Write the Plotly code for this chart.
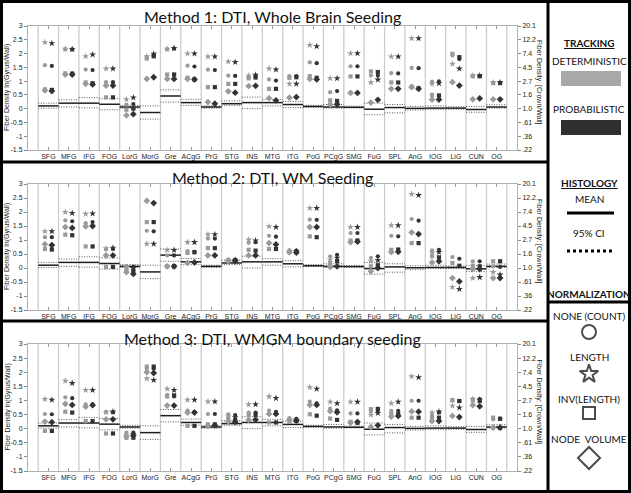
import plotly.graph_objects as go

W, H = 631, 493

categories = ["SFG", "MFG", "IFG", "FOG", "LorG", "MorG", "Gre", "ACgG", "PrG", "STG", "INS", "MTG",
              "ITG", "PoG", "PCgG", "SMG", "FuG", "SPL", "AnG", "IOG", "LiG", "CUN", "OG"]

left_ticks = [-1.5, -1, -0.5, 0, 0.5, 1, 1.5, 2, 2.5, 3]
left_labels = ["-1.5", "-1", "-0.5", "0", "0.5", "1", "1.5", "2", "2.5", "3"]
right_labels = [".22", ".36", ".61", "1.0", "1.6", "2.7", "4.5", "7.4", "12.2", "20.1"]

# Histology (same in all panels)
hist_mean = [0.1, 0.2, 0.2, 0.16, 0.06, -0.14, 0.46, 0.22, 0.06, 0.18, 0.22, 0.22, 0.15, 0.08, 0.06, 0.05, -0.02, 0.04, 0.01, 0.02, 0.02, -0.03, 0.06]
hist_ci_hi = [0.2, 0.32, 0.4, 0.36, 0.12, 0.1, 0.68, 0.34, 0.1, 0.28, 0.42, 0.33, 0.26, 0.12, 0.15, 0.09, 0.2, 0.15, 0.08, 0.1, 0.07, 0.08, 0.14]
hist_ci_lo = [0.02, 0.06, 0.03, -0.04, 0.02, -0.38, 0.24, 0.12, 0.02, 0.12, 0.0, 0.1, 0.04, 0.05, 0.02, 0.03, -0.22, -0.15, -0.05, -0.02, -0.02, -0.13, 0.02]

# Method 1: whole brain seeding
m1_det_circle = [1.58, 2.15, 1.42, 0.96, 0.15, 1.86, 2.15, 1.56, 1.42, 1.2, 1.15, 1.06, 1.18, 1.68, 0.6, 1.54, 1.2, 1.29, 1.48, 0.98, 1.93, 1.17, 0.93]
m1_det_star = [2.41, 2.17, 1.9, 1.45, 0.34, 1.9, 2.17, 2.0, 1.89, 1.71, 1.2, 1.45, 0.9, 2.31, 1.1, 2.01, 0.95, 1.89, 2.55, 0.9, 1.63, 1.2, 0.95]
m1_det_square = [0.7, 1.28, 0.95, 0.41, -0.04, 1.82, 1.24, 1.12, 0.78, 0.9, 1.1, 0.72, 1.12, 1.18, 0.3, 1.17, 1.35, 0.95, 0.8, 0.5, 1.99, 1.18, 0.93]
m1_det_diamond = [0.66, 1.24, 0.9, 0.84, -0.24, 1.08, 1.08, 1.08, 0.24, 0.63, 0.82, 0.38, 0.4, 1.08, 0.15, 0.57, 0.22, 0.72, 0.78, 0.33, 0.96, 0.34, 0.34]
m1_prob_circle = [1.55, 2.15, 1.4, 0.96, 0.17, 1.93, 2.18, 1.53, 1.4, 1.19, 1.18, 1.02, 1.18, 1.65, 0.64, 1.54, 1.2, 1.28, 1.47, 0.99, 1.8, 1.18, 0.93]
m1_prob_star = [2.37, 2.15, 1.96, 1.45, 0.4, 1.99, 2.2, 2.0, 1.89, 1.69, 1.23, 1.42, 0.9, 2.26, 1.1, 2.01, 1.05, 1.89, 2.55, 0.92, 1.45, 1.2, 0.95]
m1_prob_square = [0.68, 1.27, 0.92, 0.41, 0.0, 1.9, 1.24, 1.06, 0.78, 0.9, 1.13, 0.72, 1.14, 1.12, 0.28, 1.17, 1.33, 0.95, 0.74, 0.48, 1.87, 1.18, 0.93]
m1_prob_diamond = [0.64, 1.24, 0.88, 0.84, -0.2, 1.14, 1.08, 1.06, 0.18, 0.58, 0.83, 0.3, 0.42, 1.06, 0.16, 0.57, 0.32, 0.72, 0.72, 0.33, 0.84, 0.37, 0.34]

# Method 2: WM seeding
m2_det_circle = [1.1, 1.7, 1.6, 0.66, 0.08, 1.33, 0.45, 0.6, 1.05, 0.3, 0.9, 1.15, 0.63, 1.73, 0.42, 1.25, 0.36, 1.15, 1.75, 0.63, 0.39, 0.24, 0.06]
m2_det_star = [1.31, 2.0, 1.93, 0.7, 0.02, 0.86, 0.64, 0.92, 1.2, 0.28, 1.01, 1.49, 0.6, 2.14, 0.3, 1.46, 0.24, 1.52, 2.64, 0.54, -0.68, -0.36, -0.15]
m2_det_square = [0.68, 1.19, 0.77, 0.04, -0.06, 1.64, 0.06, 0.54, 0.71, 0.27, 0.65, 0.68, 0.58, 1.13, 0.18, 0.98, 0.06, 0.65, 0.89, 0.42, 0.18, 0.08, 0.24]
m2_det_diamond = [0.85, 1.46, 1.49, 0.45, -0.15, 2.4, 0.06, 0.18, 0.45, 0.25, 0.45, 0.89, 0.56, 1.46, 0.04, 0.92, -0.12, 0.57, 1.27, 0.2, -0.36, -0.04, -0.36]
m2_prob_circle = [1.1, 1.67, 1.64, 0.68, 0.04, 1.31, 0.45, 0.58, 1.05, 0.3, 0.92, 1.12, 0.62, 1.72, 0.47, 1.25, 0.42, 1.13, 1.69, 0.65, 0.33, 0.24, 0.04]
m2_prob_star = [1.31, 1.96, 1.94, 0.72, 0.0, 0.86, 0.64, 0.92, 1.2, 0.28, 0.98, 1.46, 0.6, 2.14, 0.36, 1.46, 0.28, 1.52, 2.6, 0.57, -0.75, -0.33, -0.24]
m2_prob_square = [0.66, 1.17, 0.77, 0.04, -0.1, 1.64, 0.06, 0.56, 0.71, 0.27, 0.62, 0.68, 0.57, 1.1, 0.24, 0.98, 0.1, 0.66, 0.89, 0.38, 0.08, 0.06, 0.24]
m2_prob_diamond = [0.82, 1.43, 1.5, 0.45, -0.21, 2.32, 0.06, 0.2, 0.45, 0.25, 0.45, 0.84, 0.55, 1.46, 0.06, 0.94, 0.0, 0.58, 1.21, 0.24, -0.48, -0.04, -0.36]

# Method 3: WMGM boundary seeding
m3_det_circle = [0.52, 1.11, 0.86, 0.6, -0.14, 2.12, 1.2, 0.64, 0.52, 0.51, 0.57, 0.64, 0.37, 0.96, 0.71, 0.54, 0.61, 0.63, 0.99, 0.48, 1.02, 1.05, 0.33]
m3_det_star = [1.05, 1.69, 1.37, 0.58, -0.22, 1.77, 1.41, 1.02, 0.96, 0.43, 0.86, 1.14, 0.31, 1.46, 0.95, 0.95, 0.49, 0.9, 1.85, 0.57, 0.81, 1.05, 0.04]
m3_det_square = [-0.08, 0.6, 0.27, -0.17, -0.32, 2.2, 1.14, 0.1, 0.15, 0.33, 0.49, 0.22, 0.25, 0.51, 0.36, 0.24, 0.69, 0.51, 0.39, 0.39, 1.0, 1.0, 0.39]
m3_det_diamond = [0.25, 0.88, 0.78, 0.33, -0.28, 2.0, 0.82, 0.57, 0.1, 0.25, 0.31, 0.52, 0.31, 0.84, 0.62, 0.21, 0.06, 0.43, 0.61, 0.27, 0.45, 0.83, 0.04]
m3_prob_circle = [0.51, 1.08, 0.86, 0.58, -0.14, 2.12, 1.14, 0.6, 0.52, 0.48, 0.57, 0.6, 0.35, 0.9, 0.65, 0.54, 0.64, 0.63, 0.99, 0.57, 0.98, 1.05, 0.36]
m3_prob_star = [1.02, 1.61, 1.37, 0.6, -0.2, 1.72, 1.37, 1.02, 0.96, 0.4, 0.86, 1.08, 0.31, 1.41, 0.9, 0.95, 0.55, 0.95, 1.82, 0.6, 0.75, 1.02, 0.04]
m3_prob_square = [-0.08, 0.57, 0.27, -0.17, -0.32, 2.2, 1.18, 0.1, 0.15, 0.3, 0.49, 0.22, 0.27, 0.46, 0.31, 0.21, 0.7, 0.51, 0.39, 0.39, 0.98, 0.98, 0.35]
m3_prob_diamond = [0.23, 0.84, 0.83, 0.33, -0.24, 1.97, 0.82, 0.57, 0.12, 0.24, 0.32, 0.52, 0.29, 0.84, 0.58, 0.24, 0.12, 0.45, 0.6, 0.27, 0.41, 0.79, 0.04]

panel_titles = ["Method 1: DTI, Whole Brain Seeding", "Method 2: DTI, WM Seeding", "Method 3: DTI, WMGM boundary seeding"]
panels = [
    (m1_det_circle, m1_det_star, m1_det_square, m1_det_diamond, m1_prob_circle, m1_prob_star, m1_prob_square, m1_prob_diamond),
    (m2_det_circle, m2_det_star, m2_det_square, m2_det_diamond, m2_prob_circle, m2_prob_star, m2_prob_square, m2_prob_diamond),
    (m3_det_circle, m3_det_star, m3_det_square, m3_det_diamond, m3_prob_circle, m3_prob_star, m3_prob_square, m3_prob_diamond),
]

DET_COLOR = "#9a9a9a"
PROB_COLOR = "#333333"
symbols = ["circle", "star", "square", "diamond"]
sizes = [4.2, 5.2, 4.2, 5.2]

# layout geometry (pixels)
PX_L, PX_R = 28, 517
panel_px = [(26, 150), (184, 310), (344, 471)]
title_px_y = [17, 177, 338]


def px_x(x):
    return x / W


def px_y(y):
    return 1 - y / H


fig = go.Figure()
n = len(categories)
idx = list(range(n))
tfont = dict(family="Liberation Sans", size=7, color="#222")

for k, (vals, (top, bot)) in enumerate(zip(panels, panel_px)):
    ax = "" if k == 0 else str(k + 1)
    xref, yref = "x" + ax, "y" + ax
    # column separators
    for b in range(n + 1):
        fig.add_shape(type="line", xref=xref, yref=yref + " domain", x0=b - 0.5, x1=b - 0.5, y0=0, y1=1,
                      line=dict(color="#cccccc", width=1.3), layer="below")
    # histology lines
    mx, my, cx, cy = [], [], [], []
    for i in idx:
        mx += [i - 0.5, i + 0.5, None]
        my += [hist_mean[i], hist_mean[i], None]
        cx += [i - 0.5, i + 0.5, None, i - 0.5, i + 0.5, None]
        cy += [hist_ci_hi[i], hist_ci_hi[i], None, hist_ci_lo[i], hist_ci_lo[i], None]
    fig.add_trace(go.Scatter(x=cx, y=cy, mode="lines", line=dict(color="#555", width=1, dash="1px,1.5px"),
                             xaxis=xref, yaxis=yref, showlegend=False, hoverinfo="skip"))
    fig.add_trace(go.Scatter(x=mx, y=my, mode="lines", line=dict(color="#1e1e1e", width=1.5),
                             xaxis=xref, yaxis=yref, showlegend=False, hoverinfo="skip"))
    # data markers
    for t, (offset, color) in enumerate([(-0.17, DET_COLOR), (0.17, PROB_COLOR)]):
        for s in range(4):
            y = vals[t * 4 + s]
            fig.add_trace(go.Scatter(x=[i + offset for i in idx], y=y, mode="markers",
                                     marker=dict(symbol=symbols[s], size=sizes[s], color=color, line=dict(width=0)),
                                     xaxis=xref, yaxis=yref, showlegend=False))
    dom = [px_y(bot), px_y(top)]
    common_x = dict(domain=[px_x(PX_L), px_x(PX_R)], range=[-1, n], tickvals=idx, ticktext=categories,
                    ticks="inside", ticklen=3, tickcolor="#999", showline=True, linecolor="#b0b0b0",
                    linewidth=1, mirror="ticks", showgrid=False, zeroline=False, anchor=yref,
                    tickangle=0, tickfont=tfont, automargin=False)
    common_y = dict(domain=dom, range=[-1.5, 3], tickvals=left_ticks, ticktext=left_labels,
                    ticks="outside", ticklen=3, tickcolor="#888", showline=True, linecolor="#b0b0b0",
                    showgrid=False, zeroline=False, anchor=xref, tickfont=tfont, automargin=False)
    right_y = dict(range=[-1.5, 3], tickvals=left_ticks, ticktext=right_labels, side="right",
                   overlaying=yref, anchor=xref, ticks="outside", ticklen=3, tickcolor="#888",
                   showline=True, linecolor="#b0b0b0", showgrid=False, zeroline=False,
                   tickfont=tfont, automargin=False)
    fig.update_layout(**{"xaxis" + ax: common_x, "yaxis" + ax: common_y, "yaxis" + str(k + 4): right_y})
    fig.add_trace(go.Scatter(x=[None], y=[None], xaxis=xref, yaxis="y" + str(k + 4), showlegend=False))
    # titles
    anc = dict(xref="paper", yref="paper", xanchor="center", yanchor="middle", showarrow=False, borderpad=0)
    fig.add_annotation(x=px_x(272), y=px_y(title_px_y[k]), text=panel_titles[k],
                       font=dict(family="Lato", size=16, color="#111"), **anc)
    yc = (top + bot) / 2
    fig.add_annotation(x=px_x(7), y=px_y(yc), text="Fiber Density ln(Gyrus/Wall)",
                       textangle=-90, font=tfont, **anc)
    fig.add_annotation(x=px_x(539), y=px_y(yc - 6), text="Fiber Density: [Crown/Wall]",
                       textangle=90, font=tfont, **anc)

# frame lines
frame = dict(color="black", width=3)
fig.add_shape(type="rect", xref="paper", yref="paper", x0=px_x(1.5), x1=px_x(629.5), y0=px_y(491.5), y1=px_y(1.5), line=frame)
fig.add_shape(type="line", xref="paper", yref="paper", x0=px_x(548), x1=px_x(548), y0=0, y1=1, line=frame)
fig.add_shape(type="line", xref="paper", yref="paper", x0=0, x1=px_x(548), y0=px_y(162), y1=px_y(162), line=frame)
fig.add_shape(type="line", xref="paper", yref="paper", x0=0, x1=px_x(548), y0=px_y(321), y1=px_y(321), line=frame)
fig.add_shape(type="line", xref="paper", yref="paper", x0=px_x(548), x1=1, y0=px_y(302), y1=px_y(302), line=frame)

# legend panel (axis in pixel units)
fig.update_layout(xaxis7=dict(domain=[px_x(548), 1], range=[548, W], visible=False, anchor="y7"),
                  yaxis7=dict(domain=[0, 1], range=[H, 0], visible=False, anchor="x7"))
LX = 589
lfont = dict(family="Lato", size=10, color="#111")
legend_texts = [("<b><u>TRACKING</u></b>", 43), ("DETERMINISTIC", 61), ("PROBABILISTIC", 109),
                ("<b><u>HISTOLOGY</u></b>", 183), ("MEAN", 199), ("95% CI", 233),
                ("<b>NORMALIZATION</b>", 294), ("NONE (COUNT)", 316), ("LENGTH", 357),
                ("INV(LENGTH)", 399), ("NODE  VOLUME", 439)]
for txt, ly in legend_texts:
    fig.add_annotation(x=LX, y=ly, xref="x7", yref="y7", text=txt, showarrow=False, font=lfont, borderpad=0,
                       xanchor="center", yanchor="middle")
fig.add_shape(type="rect", xref="x7", yref="y7", x0=561, x1=621, y0=71, y1=86, fillcolor="#a8a8a8", line=dict(width=0))
fig.add_shape(type="rect", xref="x7", yref="y7", x0=561, x1=621, y0=120, y1=135, fillcolor="#303030", line=dict(width=0))
fig.add_shape(type="line", xref="x7", yref="y7", x0=567, x1=614, y0=213, y1=213, line=dict(color="black", width=3))
fig.add_shape(type="line", xref="x7", yref="y7", x0=567, x1=614, y0=251, y1=251, line=dict(color="black", width=3, dash="dot"))
fig.add_trace(go.Scatter(x=[LX] * 4, y=[332, 374, 413, 458], mode="markers", xaxis="x7", yaxis="y7",
                         marker=dict(symbol=["circle-open", "star-open", "square-open", "diamond-open"],
                                     size=[14, 14, 12, 17], color="black", line=dict(width=2)),
                         showlegend=False, hoverinfo="skip"))

fig.update_layout(width=W, height=H, margin=dict(l=0, r=0, t=0, b=0), paper_bgcolor="white",
                  plot_bgcolor="white", showlegend=False)
fig.write_html("out.html", config={"displayModeBar": False},
               post_script="document.body.style.margin='0';document.body.style.overflow='hidden';")
